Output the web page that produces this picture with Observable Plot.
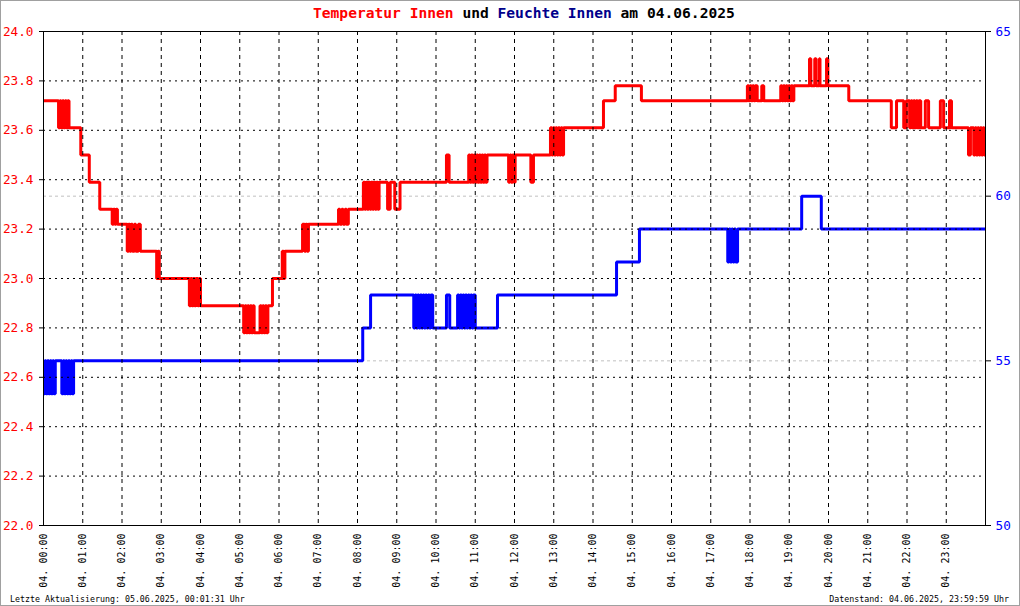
<!DOCTYPE html>
<html>
<head>
<meta charset="utf-8">
<script src="https://cdn.jsdelivr.net/npm/d3@7"></script>
<script src="https://cdn.jsdelivr.net/npm/@observablehq/plot@0.6"></script>
<style>
  html, body { margin: 0; padding: 0; background: #fff; }
  #wrap { position: relative; width: 1020px; height: 606px; overflow: hidden; background: #fff; }
  #chart { position: absolute; left: 0; top: 0; }
  #border { position: absolute; left: 0; top: 0; width: 1020px; height: 606px; box-sizing: border-box; border: 1px solid #a0a0a0; pointer-events: none; }
  .mono { font-family: "DejaVu Sans Mono", "Liberation Mono", monospace; white-space: pre; position: absolute; }
  #title { left: 313px; top: 5px; font-size: 14.6px; font-weight: bold; line-height: 16px; }
  #foot-left { left: 10px; top: 594px; font-size: 8.3px; line-height: 10px; }
  #foot-right { right: 11px; top: 594px; font-size: 8.3px; line-height: 10px; }
</style>
</head>
<body>
<div id="wrap">
  <div id="chart"></div>
  <div class="mono" id="title"><span style="color:#ff0000">Temperatur Innen</span> <span style="color:#000">und</span> <span style="color:#00008b">Feuchte Innen</span> <span style="color:#000">am 04.06.2025</span></div>
  <div class="mono" id="foot-left">Letzte Aktualisierung: 05.06.2025, 00:01:31 Uhr</div>
  <div class="mono" id="foot-right">Datenstand: 04.06.2025, 23:59:59 Uhr</div>
  <div id="border"></div>
</div>
<script>
// ---- data (time in minutes since 00:00, value) ----
const hours = [0,1,2,3,4,5,6,7,8,9,10,11,12,13,14,15,16,17,18,19,20,21,22,23];
const xTickLabels = ["04. 00:00","04. 01:00","04. 02:00","04. 03:00","04. 04:00","04. 05:00","04. 06:00","04. 07:00","04. 08:00","04. 09:00","04. 10:00","04. 11:00","04. 12:00","04. 13:00","04. 14:00","04. 15:00","04. 16:00","04. 17:00","04. 18:00","04. 19:00","04. 20:00","04. 21:00","04. 22:00","04. 23:00"];
const tempTicks = [22.0, 22.2, 22.4, 22.6, 22.8, 23.0, 23.2, 23.4, 23.6, 23.8, 24.0];
const humTicks = [50, 55, 60, 65];
const humGuides = [55, 60];
const tempDomain = [22, 24];
const humDomain = [50, 65];

// Temperatur Innen (°C)
const temperature = [
  [0,23.72],[23,23.61],[25,23.72],[27,23.61],[29,23.72],[31,23.61],[33,23.72],[35,23.61],[37,23.72],[39,23.61],
  [57,23.50],[70,23.39],[86,23.28],
  [105,23.22],[107,23.28],[109,23.22],[111,23.28],[113,23.22],
  [128,23.11],[130,23.22],[132,23.11],[134,23.22],[136,23.11],[139,23.22],[141,23.11],[145,23.22],[148,23.11],
  [173,23.00],[175,23.11],[177,23.00],
  [223,22.89],[225,23.00],[227,22.89],[229,23.00],[231,22.89],[233,23.00],[236,22.89],[238,23.00],[240,22.89],
  [306,22.78],[308,22.89],[310,22.78],[312,22.89],[314,22.78],[316,22.89],[318,22.78],[320,22.89],[322,22.78],
  [331,22.89],[333,22.78],[335,22.89],[337,22.78],[339,22.89],[341,22.78],[343,22.89],
  [350,23.00],[365,23.11],[367,23.00],[369,23.11],
  [396,23.22],[399,23.11],[401,23.22],[403,23.11],[405,23.22],
  [451,23.28],[453,23.22],[456,23.28],[458,23.22],[461,23.28],[463,23.22],[466,23.28],
  [489,23.39],[491,23.28],[493,23.39],[495,23.28],[497,23.39],[499,23.28],[501,23.39],[503,23.28],[505,23.39],[507,23.28],[509,23.39],[511,23.28],[513,23.39],
  [526,23.28],[530,23.39],[537,23.28],[545,23.39],
  [616,23.50],[620,23.39],
  [650,23.50],[652,23.39],[654,23.50],[656,23.39],[658,23.50],[660,23.39],[662,23.50],[664,23.39],[666,23.50],[668,23.39],[670,23.50],[672,23.39],[674,23.50],[676,23.39],[678,23.50],
  [711,23.39],[713,23.50],[715,23.39],[717,23.50],[719,23.39],[721,23.50],
  [745,23.39],[749,23.50],
  [775,23.61],[777,23.50],[779,23.61],[781,23.50],[783,23.61],[785,23.50],[787,23.61],[789,23.50],[791,23.61],[793,23.50],[795,23.61],
  [856,23.72],[874,23.78],[914,23.72],
  [1076,23.78],[1078,23.72],[1080,23.78],[1082,23.72],[1084,23.78],[1086,23.72],[1088,23.78],[1091,23.72],[1098,23.78],[1101,23.72],
  [1127,23.78],[1129,23.72],[1131,23.78],[1133,23.72],[1135,23.78],[1137,23.72],[1139,23.78],[1141,23.72],[1143,23.78],[1145,23.72],[1147,23.78],
  [1171,23.89],[1173,23.78],[1179,23.89],[1181,23.78],[1186,23.89],[1187,23.78],[1197,23.89],[1199,23.78],
  [1231,23.72],
  [1296,23.61],[1304,23.72],[1315,23.61],[1319,23.72],
  [1324,23.61],[1326,23.72],[1328,23.61],[1330,23.72],[1332,23.61],[1334,23.72],[1336,23.61],[1338,23.72],[1341,23.61],
  [1348,23.72],[1353,23.61],[1371,23.72],[1376,23.61],[1385,23.72],[1388,23.61],
  [1414,23.50],[1417,23.61],
  [1422,23.50],[1424,23.61],[1426,23.50],[1428,23.61],[1430,23.50],[1432,23.61],[1434,23.50],[1436,23.61],[1438,23.50],[1440,23.50]
];

// Feuchte Innen (%)
const humidity = [
  [0,54],[2,55],[4,54],[6,55],[8,54],[10,55],[12,54],[14,55],[16,54],[18,55],
  [28,54],[30,55],[32,54],[34,55],[36,54],[38,55],[40,54],[42,55],[44,54],[46,55],
  [488,56],[500,57],
  [566,56],[568,57],[570,56],[572,57],[574,56],[576,57],[578,56],[580,57],[582,56],[584,57],[586,56],[588,57],[590,56],[592,57],[595,56],
  [616,57],[621,56],
  [633,57],[635,56],[637,57],[639,56],[641,57],[643,56],[645,57],[647,56],[649,57],[651,56],[653,57],[655,56],[657,57],[660,56],
  [694,57],[876,58],[911,59],
  [1046,58],[1048,59],[1050,58],[1052,59],[1054,58],[1056,59],[1058,58],[1061,59],
  [1159,60],[1189,59],[1440,59]
];

// map humidity onto the temperature (left) scale for the secondary axis
const toLeft = h => tempDomain[0] + (h - humDomain[0]) * (tempDomain[1] - tempDomain[0]) / (humDomain[1] - humDomain[0]);
const fromLeft = t => humDomain[0] + (t - tempDomain[0]) * (humDomain[1] - humDomain[0]) / (tempDomain[1] - tempDomain[0]);

const FONT = '"DejaVu Sans Mono", "Liberation Mono", monospace';

const chart = Plot.plot({
  width: 1020,
  height: 606,
  marginLeft: 43,
  marginRight: 35,
  marginTop: 31,
  marginBottom: 81,
  style: { fontFamily: FONT, background: "transparent", overflow: "visible" },
  x: { domain: [0, 1440], label: null },
  y: { domain: tempDomain, label: null },
  marks: [
    Plot.ruleY(humGuides, { y: d => toLeft(d), stroke: "#c0c0c0", strokeWidth: 1, strokeDasharray: "3,3" }),
    Plot.line(humidity, { x: d => d[0], y: d => toLeft(d[1]), curve: "step-after", stroke: "#0000ff", strokeWidth: 3, strokeLinejoin: "miter", strokeLinecap: "butt" }),
    Plot.line(temperature, { x: d => d[0], y: d => d[1], curve: "step-after", stroke: "#ff0000", strokeWidth: 3, strokeLinejoin: "miter", strokeLinecap: "butt" }),
    Plot.gridX({ ticks: hours.map(h => h * 60), stroke: "#000", strokeOpacity: 1, strokeDasharray: "4,4" }),
    Plot.gridY({ ticks: tempTicks.slice(1, -1), stroke: "#000", strokeOpacity: 1, strokeDasharray: "2,4" }),
    Plot.frame({ stroke: "#000" }),
    // left axis: ticks + red labels
    Plot.axisY({ ticks: tempTicks, tickSize: 4, tickFormat: () => "", stroke: "#000" }),
    Plot.axisY({ ticks: tempTicks, tickSize: 0, tickPadding: 10, tickFormat: d => d.toFixed(1), color: "#ff0000", fontSize: 12.7 }),
    // right axis (humidity)
    Plot.axisY(humTicks.map(toLeft), { anchor: "right", tickSize: 5, tickFormat: () => "", stroke: "#000" }),
    Plot.axisY(humTicks.map(toLeft), { anchor: "right", tickSize: 0, tickPadding: 10, tickFormat: d => String(Math.round(fromLeft(d))), color: "#0000ff", fontSize: 12.7 }),
    // x axis
    Plot.axisX({ ticks: hours.map(h => h * 60), tickSize: 0, tickPadding: 8, tickRotate: -90, tickFormat: d => xTickLabels[Math.round(d / 60)], fontSize: 10, color: "#000" })
  ]
});
document.getElementById("chart").appendChild(chart);
</script>
</body>
</html>
